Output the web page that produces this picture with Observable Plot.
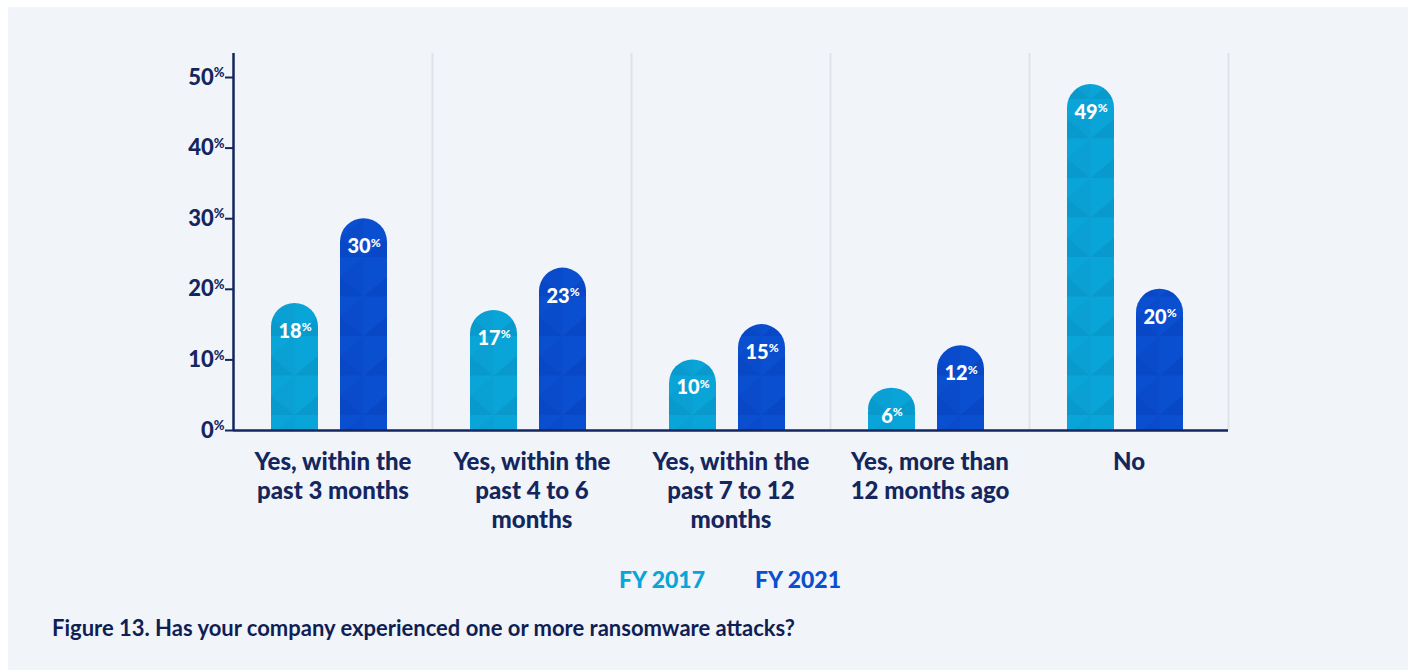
<!DOCTYPE html>
<html>
<head>
<meta charset="utf-8">
<script src="https://cdn.jsdelivr.net/npm/d3@7"></script>
<script src="https://cdn.jsdelivr.net/npm/@observablehq/plot@0.6"></script>
<style>
  body { margin: 0; background: #ffffff; font-family: Lato, "Noto Sans", sans-serif; }
  #panel { position: absolute; left: 8px; top: 7px; width: 1400px; height: 663px; background: #f1f4f8; }
  #chart { position: absolute; left: 0; top: 0; }
  #legend { position: absolute; left: 722px; top: 557px; transform: translateX(-50%); white-space: nowrap;
            font-size: 23px; font-weight: 900; line-height: 30px; }
  #legend span { display: inline-block; margin: 0 25px; }
  #caption { position: absolute; left: 44px; top: 607px; font-size: 22px; font-weight: 700; color: #0f1f55;
             line-height: 28px; white-space: nowrap; }
</style>
</head>
<body>
<div id="panel">
  <div id="chart"></div>
  <div id="legend"></div>
  <div id="caption">Figure 13. Has your company experienced one or more ransomware attacks?</div>
</div>
<script>
// Survey answers (categories) and the share of respondents per fiscal year
const categories = [
  "Yes, within the past 3 months",
  "Yes, within the past 4 to 6 months",
  "Yes, within the past 7 to 12 months",
  "Yes, more than 12 months ago",
  "No"
];
const categoryLabels = [
  "Yes, within the\npast 3 months",
  "Yes, within the\npast 4 to 6\nmonths",
  "Yes, within the\npast 7 to 12\nmonths",
  "Yes, more than\n12 months ago",
  "No"
];
const years = ["FY 2017", "FY 2021"];
const fy2017 = [18, 17, 10, 6, 49];
const fy2021 = [30, 23, 15, 12, 20];
const yTicks = [0, 10, 20, 30, 40, 50];

const navy = "#13275e";
const baseColors = {"FY 2017": "#0aa5d8", "FY 2021": "#0a4fd0"};
const shadeColors = {"FY 2017": "#099acd", "FY 2021": "#0847c6"};
const midColors = {"FY 2017": "#0aa0d3", "FY 2021": "#094bcb"};

const rows = [];
categories.forEach((c, i) => {
  rows.push({category: c, year: years[0], value: fy2017[i]});
  rows.push({category: c, year: years[1], value: fy2021[i]});
});

// Layout
const W = 1400, H = 540;
const mL = 225, mR = 180, mT = 46, mB = 117;
const step = (W - mL - mR) / categories.length;   // one band per answer
const barW = 47, gap = 22, lead = 38;
const insets = {
  "FY 2017": {left: lead, right: step - lead - barW},
  "FY 2021": {left: lead + barW + gap, right: step - lead - 2 * barW - gap}
};
const yTop = 50 * (H - mB - mT) / (H - mB - 70);
const labelOf = new Map(categories.map((c, i) => [c, categoryLabels[i]]));

const seriesMarks = years.flatMap(yr => {
  const data = rows.filter(d => d.year === yr);
  const ins = insets[yr];
  const fill = `url(#tile-${yr.replace(" ", "")})`;
  const dx = ins.left + barW / 2 - step / 2;
  return [
    Plot.barY(data, {x: "category", y: "value", fill, rx: barW / 2, insetLeft: ins.left, insetRight: ins.right}),
    Plot.barY(data, {x: "category", y: "value", fill, insetTop: barW / 2, insetLeft: ins.left, insetRight: ins.right}),
    Plot.text(data, {x: "category", y: "value", text: d => d.value + "%", dx, dy: 28,
                     fill: "white", fontSize: 20, fontWeight: 900})
  ];
});

const chart = Plot.plot({
  width: W, height: H,
  marginLeft: mL, marginRight: mR, marginTop: mT, marginBottom: mB,
  style: {fontFamily: "Lato, 'Noto Sans', sans-serif", background: "transparent", overflow: "visible"},
  x: {domain: categories, padding: 0},
  y: {domain: [0, yTop]},
  marks: [
    Plot.ruleX(categories, {dx: step / 2, stroke: "#dfe3ea", strokeWidth: 2}),
    ...seriesMarks,
    Plot.ruleX([categories[0]], {dx: -step / 2, stroke: navy, strokeWidth: 2.5}),
    Plot.ruleY([0], {stroke: navy, strokeWidth: 2.5}),
    Plot.axisY({ticks: yTicks, tickFormat: d => d + "%", tickSize: 8, tickPadding: 1, strokeWidth: 2,
                color: navy, fontSize: 22, fontWeight: 900, label: null}),
    Plot.axisX({tickFormat: d => labelOf.get(d), tickSize: 0, tickPadding: 19, color: navy,
                fontSize: 24, fontWeight: 900, lineHeight: 1.21, label: null})
  ]
});
document.getElementById("chart").appendChild(chart);

// Diamond tiling used as bar texture, one per series, repeating every band
const svg = d3.select(chart);
const defs = svg.insert("defs", ":first-child");
const cellH = 39.5;
years.forEach(yr => {
  const p = defs.append("pattern")
    .attr("id", `tile-${yr.replace(" ", "")}`)
    .attr("patternUnits", "userSpaceOnUse")
    .attr("x", mL + insets[yr].left).attr("y", H - mB - 15)
    .attr("width", step).attr("height", cellH);
  p.append("rect").attr("width", step).attr("height", cellH).attr("fill", baseColors[yr]);
  const w = barW, h = cellH;
  p.append("path").attr("fill", shadeColors[yr])
    .attr("d", `M0,${h/2}L${w/2},${h}L0,${h}Z M${w},${h/2}L${w/2},${h}L${w},${h}Z`);
  p.append("path").attr("fill", midColors[yr])
    .attr("d", `M${w/2},0L0,${h/2}L${w/2},${h}Z`);
});

// Smaller raised percent sign on value labels
svg.selectAll("text").each(function() {
  const t = this.textContent;
  const m = /^(\d+)%$/.exec(t);
  if (!m || this.children.length) return;
  const fs = parseFloat(getComputedStyle(this).fontSize) || 18;
  this.textContent = m[1];
  d3.select(this).append("tspan").attr("font-size", Math.round(fs * 0.58)).attr("dy", -fs * 0.33).text("%");
});

// Legend
const legend = d3.select("#legend");
years.forEach(yr => legend.append("span").style("color", baseColors[yr]).text(yr));
</script>
</body>
</html>
